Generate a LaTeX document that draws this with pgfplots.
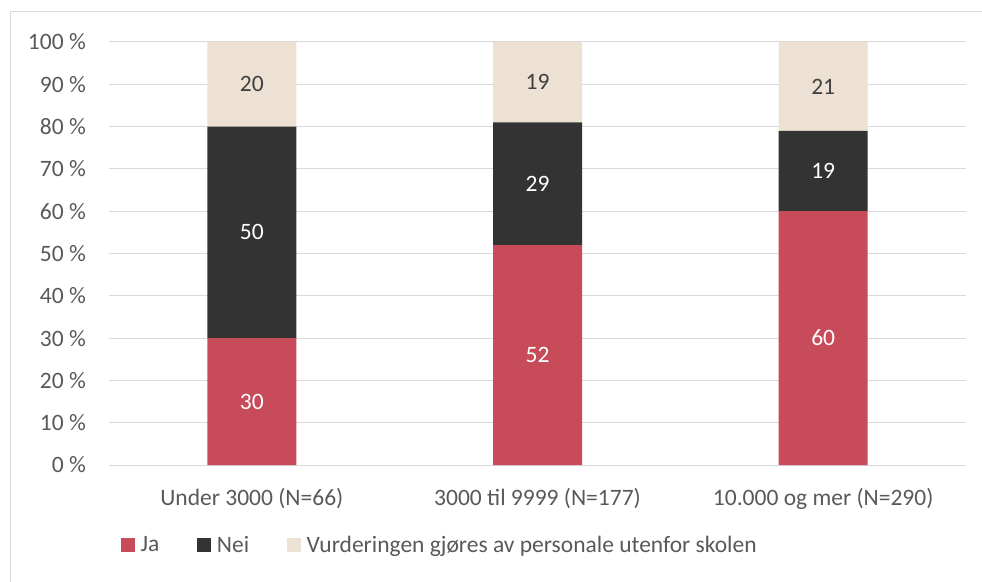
\documentclass[border=0pt]{standalone}
\usepackage{fontspec}
\setmainfont{Carlito}
\usepackage{pgfplots}
\pgfplotsset{compat=1.18}
\definecolor{cRed}{HTML}{C84B5A}
\definecolor{cDark}{HTML}{333333}
\definecolor{cBeige}{HTML}{ECE1D3}
\definecolor{cGrid}{HTML}{D9D9D9}
\definecolor{cText}{HTML}{595959}
\definecolor{cLab}{HTML}{404040}
\begin{document}
\begin{tikzpicture}[x=1pt,y=1pt,font=\fontsize{23.5}{28}\selectfont]
\useasboundingbox (0,0) rectangle (982,581);
\begin{scope}
\clip (0,0) rectangle (982,581);
\draw[cGrid, line width=1pt] (10,-20) -- (10,569) -- (1000,569);
\end{scope}
\begin{axis}[
  at={(109pt,116pt)}, anchor=south west,
  scale only axis, width=857pt, height=423pt,
  ybar stacked, bar width=89pt,
  xmin=-0.5, xmax=2.5, ymin=0, ymax=100,
  xtick={0,1,2},
  xticklabels={Under 3000 (N=66), 3000 til 9999 (N=177), 10.000 og mer (N=290)},
  ytick={0,10,...,100},
  yticklabel={\pgfmathprintnumber{\tick}~\%},
  /pgf/number format/assume math mode=true,
  ymajorgrids, grid style={cGrid, line width=1pt},
  axis lines*=left,
  y axis line style={draw=none},
  x axis line style={cGrid, line width=1pt},
  major tick length=0pt,
  ticklabel style={text=cText, inner sep=0pt},
  yticklabel style={anchor=east, xshift=-23pt},
  xticklabel style={anchor=base, yshift=-40pt},
  nodes near coords,
  every node near coord/.append style={anchor=center, inner sep=0pt},
  legend columns=3,
  legend style={draw=none, fill=none, inner sep=0pt, text=cText,
     at={(axis description cs:0.014,-0.189)}, anchor=west,
     nodes={inner sep=0pt},
     /tikz/every odd column/.append style={column sep=5.5pt},
     /tikz/every even column/.append style={column sep=38pt}},
  legend image code/.code={\fill[#1] (0pt,-7pt) rectangle (14pt,7pt);},
]
\addplot[fill=cRed, draw=none, every node near coord/.append style={text=white}]
  coordinates {(0,30) (1,52) (2,60)};
\addplot[fill=cDark, draw=none, every node near coord/.append style={text=white}]
  coordinates {(0,50) (1,29) (2,19)};
\addplot[fill=cBeige, draw=none, every node near coord/.append style={text=cLab}]
  coordinates {(0,20) (1,19) (2,21)};
\legend{Ja, Nei, Vurderingen gjøres av personale utenfor skolen}
\end{axis}
\end{tikzpicture}
\end{document}
